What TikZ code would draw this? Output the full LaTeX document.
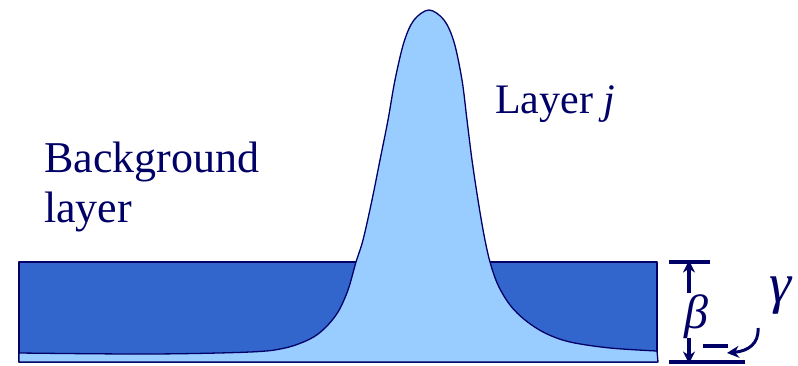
\documentclass[tikz,border=0pt]{standalone}
\usepackage{fontspec}
\setmainfont{Liberation Serif}
\usetikzlibrary{arrows.meta, positioning}

\definecolor{navy}{HTML}{000066}
\definecolor{bgblue}{HTML}{3366CC}
\definecolor{lightblue}{HTML}{99CCFF}

\begin{document}
\begin{tikzpicture}[
                x=1pt, y=-1pt,
                layer/.style={draw=navy, fill=#1, line width=1.3pt, line join=round},
                lbl/.style={text=navy, inner sep=0pt, font=\fontsize{#1}{50}\selectfont},
                bar/.style={draw=navy, line width=3.5pt},
                arrow/.style={-{Stealth[length=12pt, width=12pt]}, draw=navy, line width=3.5pt}
            ]
                \useasboundingbox (0,0) rectangle (798,365);

                % background layer
                \draw[layer=bgblue] (19,262) rectangle (657,362);

                % layer j
                \draw[layer=lightblue] (19,362) -- plot[smooth, tension=0.55] coordinates {
                    (19,353) (150,354) (250,352) (285,348) (310,339) (325,328) (338,312)
                    (348,290) (356,262) (363,240) (372,200) (380,160) (388,120) (395,80)
                    (404,42) (414,20) (429,10) (444,20) (454,42) (462,80) (467,120)
                    (472,160) (478,200) (484,235) (490,262) (498,285) (510,305) (525,320)
                    (545,333) (570,342) (610,348) (657,351)} -- (658,362) -- cycle;

                \node[lbl=44, anchor=base west, align=left] (bgtext) at (44,222) {Background\\layer};
                \node[lbl=42, anchor=base west] (jtext) at (495,113) {Layer \textit{j}};

                % thickness marks
                \coordinate (ttop) at (689,262);
                \coordinate (tbot) at (689,362);
                \coordinate (tup) at (689,293);
                \coordinate (tdown) at (689,338);
                \draw[bar] (669,262) -- (710,262);
                \draw[bar] (669,362) -- (745,362);
                \draw[bar] (703,346) -- (728,346);
                \draw[arrow] (tup) -- ([yshift=1.5pt]ttop);
                \draw[arrow] (tdown) -- ([yshift=-1.5pt]tbot);

                \node[lbl=48] (beta) at (696,317) {\itshape β};
                \node[lbl=56] (gamma) at (781,296) {\itshape γ};

                \coordinate (gfrom) at (758,328);
                \coordinate (gto) at (727,353);
                \draw[arrow, line width=3pt] (gfrom) .. controls (759,344) and (748,351) .. (gto);
            \end{tikzpicture}
\end{document}
